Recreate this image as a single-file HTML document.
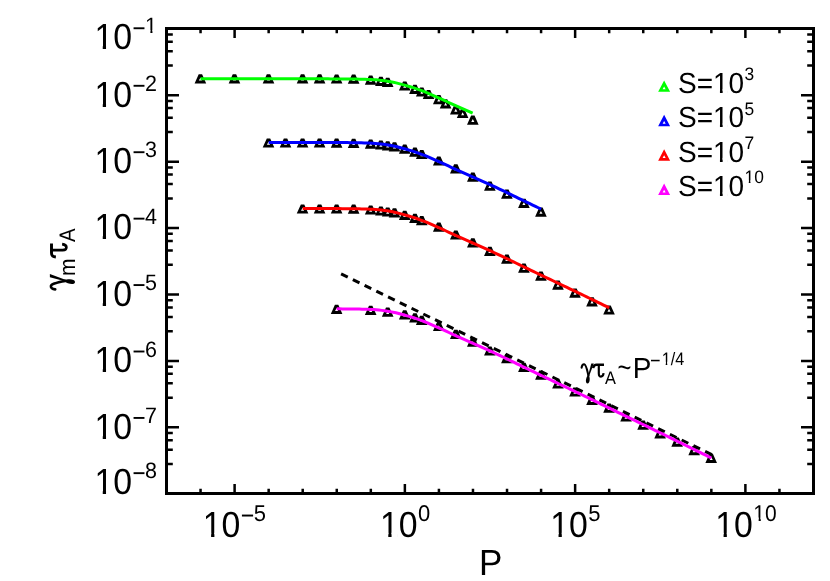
<!DOCTYPE html><html><head><meta charset="utf-8"><title>plot</title><style>
html,body{margin:0;padding:0;background:#fff;}svg{display:block;will-change:transform;}
text{font-family:"Liberation Sans",sans-serif;fill:#000;text-rendering:geometricPrecision;}
</style></head><body>
<svg width="830" height="581" viewBox="0 0 830 581">
<rect x="0" y="0" width="830" height="581" fill="#fff"/>
<g fill="#000" fill-rule="evenodd">
<path d="M198.70,74.30L202.10,74.30L206.20,83.50L194.60,83.50ZM200.40,77.70L201.95,80.60L198.85,80.60Z"/>
<path d="M232.76,74.30L236.16,74.30L240.26,83.50L228.66,83.50ZM234.46,77.70L236.01,80.60L232.91,80.60Z"/>
<path d="M266.81,74.30L270.21,74.30L274.31,83.50L262.71,83.50ZM268.51,77.70L270.06,80.60L266.96,80.60Z"/>
<path d="M300.86,74.30L304.26,74.30L308.36,83.50L296.76,83.50ZM302.56,77.70L304.11,80.60L301.01,80.60Z"/>
<path d="M317.89,74.30L321.29,74.30L325.39,83.50L313.79,83.50ZM319.59,77.70L321.14,80.60L318.04,80.60Z"/>
<path d="M334.91,74.40L338.31,74.40L342.41,83.60L330.81,83.60ZM336.61,77.80L338.16,80.70L335.06,80.70Z"/>
<path d="M351.94,74.60L355.34,74.60L359.44,83.80L347.84,83.80ZM353.64,78.00L355.19,80.90L352.09,80.90Z"/>
<path d="M368.97,75.50L372.37,75.50L376.47,84.70L364.87,84.70ZM370.67,78.90L372.22,81.80L369.12,81.80Z"/>
<path d="M379.18,76.80L382.58,76.80L386.68,86.00L375.08,86.00ZM380.88,80.20L382.43,83.10L379.33,83.10Z"/>
<path d="M385.99,77.70L389.39,77.70L393.49,86.90L381.89,86.90ZM387.69,81.10L389.24,84.00L386.14,84.00Z"/>
<path d="M403.02,81.40L406.42,81.40L410.52,90.60L398.92,90.60ZM404.72,84.80L406.27,87.70L403.17,87.70Z"/>
<path d="M413.23,84.80L416.63,84.80L420.73,94.00L409.13,94.00ZM414.93,88.20L416.48,91.10L413.38,91.10Z"/>
<path d="M420.04,87.40L423.44,87.40L427.54,96.60L415.94,96.60ZM421.74,90.80L423.29,93.70L420.19,93.70Z"/>
<path d="M426.86,89.90L430.26,89.90L434.36,99.10L422.76,99.10ZM428.56,93.30L430.11,96.20L427.01,96.20Z"/>
<path d="M437.07,95.10L440.47,95.10L444.57,104.30L432.97,104.30ZM438.77,98.50L440.32,101.40L437.22,101.40Z"/>
<path d="M443.88,99.30L447.28,99.30L451.38,108.50L439.78,108.50ZM445.58,102.70L447.13,105.60L444.03,105.60Z"/>
<path d="M454.10,105.35L457.50,105.35L461.60,114.55L450.00,114.55ZM455.80,108.75L457.35,111.65L454.25,111.65Z"/>
<path d="M460.91,108.90L464.31,108.90L468.41,118.10L456.81,118.10ZM462.61,112.30L464.16,115.20L461.06,115.20Z"/>
<path d="M471.12,115.60L474.52,115.60L478.62,124.80L467.02,124.80ZM472.82,119.00L474.37,121.90L471.27,121.90Z"/>
<path d="M266.81,138.40L270.21,138.40L274.31,147.60L262.71,147.60ZM268.51,141.80L270.06,144.70L266.96,144.70Z"/>
<path d="M283.83,138.40L287.23,138.40L291.33,147.60L279.73,147.60ZM285.53,141.80L287.08,144.70L283.98,144.70Z"/>
<path d="M300.86,138.40L304.26,138.40L308.36,147.60L296.76,147.60ZM302.56,141.80L304.11,144.70L301.01,144.70Z"/>
<path d="M317.89,138.40L321.29,138.40L325.39,147.60L313.79,147.60ZM319.59,141.80L321.14,144.70L318.04,144.70Z"/>
<path d="M334.91,138.45L338.31,138.45L342.41,147.65L330.81,147.65ZM336.61,141.85L338.16,144.75L335.06,144.75Z"/>
<path d="M351.94,138.80L355.34,138.80L359.44,148.00L347.84,148.00ZM353.64,142.20L355.19,145.10L352.09,145.10Z"/>
<path d="M368.97,139.50L372.37,139.50L376.47,148.70L364.87,148.70ZM370.67,142.90L372.22,145.80L369.12,145.80Z"/>
<path d="M379.18,140.40L382.58,140.40L386.68,149.60L375.08,149.60ZM380.88,143.80L382.43,146.70L379.33,146.70Z"/>
<path d="M385.99,141.20L389.39,141.20L393.49,150.40L381.89,150.40ZM387.69,144.60L389.24,147.50L386.14,147.50Z"/>
<path d="M392.80,142.20L396.20,142.20L400.30,151.40L388.70,151.40ZM394.50,145.60L396.05,148.50L392.95,148.50Z"/>
<path d="M403.02,144.60L406.42,144.60L410.52,153.80L398.92,153.80ZM404.72,148.00L406.27,150.90L403.17,150.90Z"/>
<path d="M413.23,147.60L416.63,147.60L420.73,156.80L409.13,156.80ZM414.93,151.00L416.48,153.90L413.38,153.90Z"/>
<path d="M420.04,149.90L423.44,149.90L427.54,159.10L415.94,159.10ZM421.74,153.30L423.29,156.20L420.19,156.20Z"/>
<path d="M437.07,156.40L440.47,156.40L444.57,165.60L432.97,165.60ZM438.77,159.80L440.32,162.70L437.22,162.70Z"/>
<path d="M454.10,164.30L457.50,164.30L461.60,173.50L450.00,173.50ZM455.80,167.70L457.35,170.60L454.25,170.60Z"/>
<path d="M471.12,172.50L474.52,172.50L478.62,181.70L467.02,181.70ZM472.82,175.90L474.37,178.80L471.27,178.80Z"/>
<path d="M488.15,181.60L491.55,181.60L495.65,190.80L484.05,190.80ZM489.85,185.00L491.40,187.90L488.30,187.90Z"/>
<path d="M505.18,189.60L508.58,189.60L512.68,198.80L501.08,198.80ZM506.88,193.00L508.43,195.90L505.33,195.90Z"/>
<path d="M522.20,198.80L525.60,198.80L529.70,208.00L518.10,208.00ZM523.90,202.20L525.45,205.10L522.35,205.10Z"/>
<path d="M539.23,207.50L542.63,207.50L546.73,216.70L535.13,216.70ZM540.93,210.90L542.48,213.80L539.38,213.80Z"/>
<path d="M300.86,204.40L304.26,204.40L308.36,213.60L296.76,213.60ZM302.56,207.80L304.11,210.70L301.01,210.70Z"/>
<path d="M317.89,204.40L321.29,204.40L325.39,213.60L313.79,213.60ZM319.59,207.80L321.14,210.70L318.04,210.70Z"/>
<path d="M334.91,204.40L338.31,204.40L342.41,213.60L330.81,213.60ZM336.61,207.80L338.16,210.70L335.06,210.70Z"/>
<path d="M351.94,204.60L355.34,204.60L359.44,213.80L347.84,213.80ZM353.64,208.00L355.19,210.90L352.09,210.90Z"/>
<path d="M368.97,205.40L372.37,205.40L376.47,214.60L364.87,214.60ZM370.67,208.80L372.22,211.70L369.12,211.70Z"/>
<path d="M379.18,206.40L382.58,206.40L386.68,215.60L375.08,215.60ZM380.88,209.80L382.43,212.70L379.33,212.70Z"/>
<path d="M385.99,207.40L389.39,207.40L393.49,216.60L381.89,216.60ZM387.69,210.80L389.24,213.70L386.14,213.70Z"/>
<path d="M392.80,208.30L396.20,208.30L400.30,217.50L388.70,217.50ZM394.50,211.70L396.05,214.60L392.95,214.60Z"/>
<path d="M403.02,210.70L406.42,210.70L410.52,219.90L398.92,219.90ZM404.72,214.10L406.27,217.00L403.17,217.00Z"/>
<path d="M413.23,213.70L416.63,213.70L420.73,222.90L409.13,222.90ZM414.93,217.10L416.48,220.00L413.38,220.00Z"/>
<path d="M420.04,216.10L423.44,216.10L427.54,225.30L415.94,225.30ZM421.74,219.50L423.29,222.40L420.19,222.40Z"/>
<path d="M437.07,222.50L440.47,222.50L444.57,231.70L432.97,231.70ZM438.77,225.90L440.32,228.80L437.22,228.80Z"/>
<path d="M454.10,230.40L457.50,230.40L461.60,239.60L450.00,239.60ZM455.80,233.80L457.35,236.70L454.25,236.70Z"/>
<path d="M471.12,238.30L474.52,238.30L478.62,247.50L467.02,247.50ZM472.82,241.70L474.37,244.60L471.27,244.60Z"/>
<path d="M488.15,246.70L491.55,246.70L495.65,255.90L484.05,255.90ZM489.85,250.10L491.40,253.00L488.30,253.00Z"/>
<path d="M505.18,254.60L508.58,254.60L512.68,263.80L501.08,263.80ZM506.88,258.00L508.43,260.90L505.33,260.90Z"/>
<path d="M522.20,263.60L525.60,263.60L529.70,272.80L518.10,272.80ZM523.90,267.00L525.45,269.90L522.35,269.90Z"/>
<path d="M539.23,271.50L542.63,271.50L546.73,280.70L535.13,280.70ZM540.93,274.90L542.48,277.80L539.38,277.80Z"/>
<path d="M556.26,280.50L559.66,280.50L563.76,289.70L552.16,289.70ZM557.96,283.90L559.51,286.80L556.41,286.80Z"/>
<path d="M573.28,288.50L576.68,288.50L580.78,297.70L569.18,297.70ZM574.98,291.90L576.53,294.80L573.43,294.80Z"/>
<path d="M590.31,297.20L593.71,297.20L597.81,306.40L586.21,306.40ZM592.01,300.60L593.56,303.50L590.46,303.50Z"/>
<path d="M607.33,305.40L610.73,305.40L614.83,314.60L603.23,314.60ZM609.03,308.80L610.58,311.70L607.48,311.70Z"/>
<path d="M334.91,304.70L338.31,304.70L342.41,313.90L330.81,313.90ZM336.61,308.10L338.16,311.00L335.06,311.00Z"/>
<path d="M368.97,305.80L372.37,305.80L376.47,315.00L364.87,315.00ZM370.67,309.20L372.22,312.10L369.12,312.10Z"/>
<path d="M385.99,307.60L389.39,307.60L393.49,316.80L381.89,316.80ZM387.69,311.00L389.24,313.90L386.14,313.90Z"/>
<path d="M403.02,310.20L406.42,310.20L410.52,319.40L398.92,319.40ZM404.72,313.60L406.27,316.50L403.17,316.50Z"/>
<path d="M413.23,313.20L416.63,313.20L420.73,322.40L409.13,322.40ZM414.93,316.60L416.48,319.50L413.38,319.50Z"/>
<path d="M420.04,315.80L423.44,315.80L427.54,325.00L415.94,325.00ZM421.74,319.20L423.29,322.10L420.19,322.10Z"/>
<path d="M437.07,321.90L440.47,321.90L444.57,331.10L432.97,331.10ZM438.77,325.30L440.32,328.20L437.22,328.20Z"/>
<path d="M454.10,329.80L457.50,329.80L461.60,339.00L450.00,339.00ZM455.80,333.20L457.35,336.10L454.25,336.10Z"/>
<path d="M471.12,337.60L474.52,337.60L478.62,346.80L467.02,346.80ZM472.82,341.00L474.37,343.90L471.27,343.90Z"/>
<path d="M488.15,346.40L491.55,346.40L495.65,355.60L484.05,355.60ZM489.85,349.80L491.40,352.70L488.30,352.70Z"/>
<path d="M505.18,354.00L508.58,354.00L512.68,363.20L501.08,363.20ZM506.88,357.40L508.43,360.30L505.33,360.30Z"/>
<path d="M522.20,362.80L525.60,362.80L529.70,372.00L518.10,372.00ZM523.90,366.20L525.45,369.10L522.35,369.10Z"/>
<path d="M539.23,370.60L542.63,370.60L546.73,379.80L535.13,379.80ZM540.93,374.00L542.48,376.90L539.38,376.90Z"/>
<path d="M556.26,379.40L559.66,379.40L563.76,388.60L552.16,388.60ZM557.96,382.80L559.51,385.70L556.41,385.70Z"/>
<path d="M573.28,387.40L576.68,387.40L580.78,396.60L569.18,396.60ZM574.98,390.80L576.53,393.70L573.43,393.70Z"/>
<path d="M590.31,395.80L593.71,395.80L597.81,405.00L586.21,405.00ZM592.01,399.20L593.56,402.10L590.46,402.10Z"/>
<path d="M607.33,403.60L610.73,403.60L614.83,412.80L603.23,412.80ZM609.03,407.00L610.58,409.90L607.48,409.90Z"/>
<path d="M624.36,412.40L627.76,412.40L631.86,421.60L620.26,421.60ZM626.06,415.80L627.61,418.70L624.51,418.70Z"/>
<path d="M641.39,420.60L644.79,420.60L648.89,429.80L637.29,429.80ZM643.09,424.00L644.64,426.90L641.54,426.90Z"/>
<path d="M658.41,429.30L661.81,429.30L665.91,438.50L654.31,438.50ZM660.11,432.70L661.66,435.60L658.56,435.60Z"/>
<path d="M675.44,437.50L678.84,437.50L682.94,446.70L671.34,446.70ZM677.14,440.90L678.69,443.80L675.59,443.80Z"/>
<path d="M692.47,446.00L695.87,446.00L699.97,455.20L688.37,455.20ZM694.17,449.40L695.72,452.30L692.62,452.30Z"/>
<path d="M709.49,453.70L712.89,453.70L716.99,462.90L705.39,462.90ZM711.19,457.10L712.74,460.00L709.64,460.00Z"/>
</g>
<path d="M341.10,273.90L712.84,455.20" stroke="#000" stroke-width="3" stroke-dasharray="7.4 5.665" fill="none"/>
<path d="M200.55,78.85L203.39,78.85L206.22,78.85L209.06,78.85L211.89,78.85L214.72,78.85L217.56,78.85L220.39,78.85L223.23,78.85L226.06,78.85L228.89,78.85L231.73,78.85L234.56,78.85L237.40,78.85L240.23,78.85L243.07,78.85L245.90,78.85L248.73,78.85L251.57,78.85L254.40,78.85L257.24,78.85L260.07,78.85L262.90,78.85L265.74,78.85L268.57,78.85L271.41,78.85L274.24,78.85L277.08,78.85L279.91,78.85L282.74,78.85L285.58,78.85L288.41,78.85L291.25,78.85L294.08,78.85L296.91,78.85L299.75,78.85L302.58,78.85L305.42,78.85L308.25,78.85L311.09,78.85L313.92,78.85L316.75,78.85L319.59,78.85L322.42,78.86L325.26,78.86L328.09,78.87L330.92,78.88L333.76,78.89L336.59,78.90L339.43,78.91L342.26,78.93L345.10,78.95L347.93,78.98L350.76,79.01L353.60,79.05L356.43,79.09L359.27,79.15L362.10,79.21L364.93,79.29L367.77,79.39L370.60,79.50L373.44,79.66L376.27,79.87L379.11,80.13L381.94,80.43L384.77,80.80L387.61,81.23L390.44,81.71L393.28,82.27L396.11,82.89L398.94,83.59L401.78,84.37L404.61,85.18L407.45,85.98L410.28,86.80L413.12,87.67L415.95,88.61L418.78,89.62L421.62,90.63L424.45,91.68L427.29,92.84L430.12,94.06L432.95,95.31L435.79,96.57L438.62,97.85L441.46,99.15L444.29,100.46L447.13,101.76L449.96,103.04L452.79,104.32L455.63,105.58L458.46,106.85L461.30,108.12L464.13,109.40L466.96,110.67L469.80,111.94L472.63,113.20" stroke="#00ff00" stroke-width="3" fill="none" stroke-linejoin="round"/>
<path d="M268.66,142.50L271.47,142.50L274.27,142.50L277.08,142.50L279.89,142.50L282.70,142.50L285.51,142.50L288.32,142.50L291.13,142.50L293.93,142.50L296.74,142.50L299.55,142.50L302.36,142.50L305.17,142.50L307.98,142.50L310.78,142.50L313.59,142.50L316.40,142.50L319.21,142.50L322.02,142.51L324.83,142.51L327.64,142.52L330.44,142.53L333.25,142.54L336.06,142.55L338.87,142.56L341.68,142.58L344.49,142.60L347.29,142.62L350.10,142.65L352.91,142.69L355.72,142.73L358.53,142.78L361.34,142.84L364.15,142.92L366.95,143.01L369.76,143.12L372.57,143.25L375.38,143.45L378.19,143.69L381.00,143.97L383.80,144.32L386.61,144.72L389.42,145.17L392.23,145.70L395.04,146.30L397.85,146.96L400.66,147.71L403.46,148.50L406.27,149.30L409.08,150.10L411.89,150.93L414.70,151.83L417.51,152.81L420.31,153.82L423.12,154.83L425.93,155.93L428.74,157.11L431.55,158.34L434.36,159.59L437.17,160.84L439.97,162.12L442.78,163.41L445.59,164.71L448.40,165.99L451.21,167.26L454.02,168.51L456.83,169.77L459.63,171.03L462.44,172.29L465.25,173.55L468.06,174.81L470.87,176.07L473.68,177.31L476.48,178.55L479.29,179.79L482.10,181.05L484.91,182.32L487.72,183.59L490.53,184.88L493.34,186.17L496.14,187.48L498.95,188.80L501.76,190.13L504.57,191.47L507.38,192.83L510.19,194.18L512.99,195.55L515.80,196.91L518.61,198.28L521.42,199.65L524.23,201.01L527.04,202.37L529.85,203.72L532.65,205.06L535.46,206.41L538.27,207.74L541.08,209.08" stroke="#0000ff" stroke-width="3" fill="none" stroke-linejoin="round"/>
<path d="M302.71,208.55L305.52,208.55L308.33,208.55L311.15,208.55L313.96,208.55L316.77,208.55L319.58,208.55L322.39,208.56L325.20,208.56L328.02,208.57L330.83,208.58L333.64,208.59L336.45,208.60L339.26,208.61L342.07,208.63L344.89,208.65L347.70,208.68L350.51,208.71L353.32,208.74L356.13,208.79L358.94,208.84L361.76,208.90L364.57,208.98L367.38,209.08L370.19,209.18L373.00,209.33L375.81,209.53L378.63,209.78L381.44,210.07L384.25,210.43L387.06,210.84L389.87,211.30L392.68,211.84L395.50,212.45L398.31,213.13L401.12,213.89L403.93,214.68L406.74,215.48L409.55,216.28L412.37,217.13L415.18,218.05L417.99,219.03L420.80,220.04L423.61,221.06L426.42,222.18L429.24,223.37L432.05,224.61L434.86,225.86L437.67,227.12L440.48,228.40L443.29,229.70L446.11,231.00L448.92,232.27L451.73,233.54L454.54,234.80L457.35,236.05L460.16,237.31L462.98,238.58L465.79,239.84L468.60,241.10L471.41,242.36L474.22,243.60L477.04,244.84L479.85,246.09L482.66,247.35L485.47,248.62L488.28,249.90L491.09,251.19L493.91,252.49L496.72,253.80L499.53,255.12L502.34,256.46L505.15,257.80L507.96,259.16L510.78,260.52L513.59,261.89L516.40,263.25L519.21,264.62L522.02,265.99L524.83,267.35L527.65,268.71L530.46,270.06L533.27,271.41L536.08,272.75L538.89,274.09L541.70,275.43L544.52,276.76L547.33,278.10L550.14,279.43L552.95,280.76L555.76,282.10L558.57,283.43L561.39,284.76L564.20,286.10L567.01,287.44L569.82,288.78L572.63,290.12L575.44,291.46L578.26,292.81L581.07,294.16L583.88,295.52L586.69,296.88L589.50,298.24L592.31,299.60L595.13,300.97L597.94,302.34L600.75,303.71L603.56,305.08L606.37,306.45L609.18,307.82" stroke="#ff0000" stroke-width="3" fill="none" stroke-linejoin="round"/>
<path d="M336.76,308.85L339.58,308.86L342.40,308.88L345.21,308.90L348.03,308.93L350.85,308.96L353.66,309.00L356.48,309.04L359.29,309.10L362.11,309.16L364.93,309.24L367.74,309.34L370.56,309.45L373.38,309.60L376.19,309.82L379.01,310.07L381.83,310.37L384.64,310.73L387.46,311.15L390.27,311.62L393.09,312.18L395.91,312.80L398.72,313.48L401.54,314.26L404.36,315.06L407.17,315.85L409.99,316.66L412.81,317.52L415.62,318.45L418.44,319.45L421.25,320.45L424.07,321.49L426.89,322.62L429.70,323.83L432.52,325.07L435.34,326.32L438.15,327.58L440.97,328.87L443.79,330.18L446.60,331.47L449.42,332.75L452.23,334.02L455.05,335.28L457.87,336.54L460.68,337.80L463.50,339.06L466.32,340.33L469.13,341.59L471.95,342.85L474.77,344.09L477.58,345.33L480.40,346.58L483.22,347.85L486.03,349.13L488.85,350.41L491.66,351.70L494.48,353.00L497.30,354.32L500.11,355.65L502.93,356.99L505.75,358.34L508.56,359.70L511.38,361.06L514.20,362.43L517.01,363.80L519.83,365.17L522.64,366.54L525.46,367.91L528.28,369.27L531.09,370.62L533.91,371.96L536.73,373.31L539.54,374.65L542.36,375.99L545.18,377.33L547.99,378.66L550.81,380.00L553.62,381.33L556.44,382.67L559.26,384.00L562.07,385.34L564.89,386.68L567.71,388.02L570.52,389.36L573.34,390.71L576.16,392.05L578.97,393.41L581.79,394.76L584.60,396.12L587.42,397.48L590.24,398.85L593.05,400.21L595.87,401.58L598.69,402.95L601.50,404.32L604.32,405.70L607.14,407.07L609.95,408.45L612.77,409.82L615.59,411.19L618.40,412.57L621.22,413.94L624.03,415.31L626.85,416.68L629.67,418.04L632.48,419.41L635.30,420.77L638.12,422.13L640.93,423.48L643.75,424.84L646.57,426.20L649.38,427.56L652.20,428.92L655.01,430.28L657.83,431.65L660.65,433.02L663.46,434.40L666.28,435.77L669.10,437.15L671.91,438.54L674.73,439.92L677.55,441.31L680.36,442.70L683.18,444.09L685.99,445.48L688.81,446.87L691.63,448.26L694.44,449.66L697.26,451.05L700.08,452.44L702.89,453.83L705.71,455.22L708.53,456.61L711.34,458.00" stroke="#ff00ff" stroke-width="3" fill="none" stroke-linejoin="round"/>
<rect x="166.5" y="28.5" width="647.0" height="465.0" fill="none" stroke="#000" stroke-width="3"/>
<path d="M200.55,493.5v-4.8M200.55,28.5v4.8M234.61,493.5v-9.5M234.61,28.5v9.5M268.66,493.5v-4.8M268.66,28.5v4.8M302.71,493.5v-4.8M302.71,28.5v4.8M336.76,493.5v-4.8M336.76,28.5v4.8M370.82,493.5v-4.8M370.82,28.5v4.8M404.87,493.5v-9.5M404.87,28.5v9.5M438.92,493.5v-4.8M438.92,28.5v4.8M472.97,493.5v-4.8M472.97,28.5v4.8M507.03,493.5v-4.8M507.03,28.5v4.8M541.08,493.5v-4.8M541.08,28.5v4.8M575.13,493.5v-9.5M575.13,28.5v9.5M609.18,493.5v-4.8M609.18,28.5v4.8M643.24,493.5v-4.8M643.24,28.5v4.8M677.29,493.5v-4.8M677.29,28.5v4.8M711.34,493.5v-4.8M711.34,28.5v4.8M745.39,493.5v-9.5M745.39,28.5v9.5M779.45,493.5v-4.8M779.45,28.5v4.8M166.5,464.10h6.3M813.5,464.10h-6.3M166.5,449.77h6.3M813.5,449.77h-6.3M166.5,440.25h6.3M813.5,440.25h-6.3M166.5,433.10h6.3M813.5,433.10h-6.3M166.5,427.37h12.5M813.5,427.37h-12.5M166.5,397.67h6.3M813.5,397.67h-6.3M166.5,383.35h6.3M813.5,383.35h-6.3M166.5,373.82h6.3M813.5,373.82h-6.3M166.5,366.67h6.3M813.5,366.67h-6.3M166.5,360.94h12.5M813.5,360.94h-12.5M166.5,331.24h6.3M813.5,331.24h-6.3M166.5,316.92h6.3M813.5,316.92h-6.3M166.5,307.39h6.3M813.5,307.39h-6.3M166.5,300.24h6.3M813.5,300.24h-6.3M166.5,294.51h12.5M813.5,294.51h-12.5M166.5,264.81h6.3M813.5,264.81h-6.3M166.5,250.49h6.3M813.5,250.49h-6.3M166.5,240.96h6.3M813.5,240.96h-6.3M166.5,233.81h6.3M813.5,233.81h-6.3M166.5,228.09h12.5M813.5,228.09h-12.5M166.5,198.38h6.3M813.5,198.38h-6.3M166.5,184.06h6.3M813.5,184.06h-6.3M166.5,174.53h6.3M813.5,174.53h-6.3M166.5,167.38h6.3M813.5,167.38h-6.3M166.5,161.66h12.5M813.5,161.66h-12.5M166.5,131.95h6.3M813.5,131.95h-6.3M166.5,117.63h6.3M813.5,117.63h-6.3M166.5,108.10h6.3M813.5,108.10h-6.3M166.5,100.95h6.3M813.5,100.95h-6.3M166.5,95.23h12.5M813.5,95.23h-12.5M166.5,65.52h6.3M813.5,65.52h-6.3M166.5,51.20h6.3M813.5,51.20h-6.3M166.5,41.68h6.3M813.5,41.68h-6.3M166.5,34.53h6.3M813.5,34.53h-6.3" stroke="#000" stroke-width="2.5" fill="none"/>
<text transform="translate(202.76,537.20) scale(0.966,1.035)" font-size="35.0">10</text><rect x="204.11" y="532.79" width="7.00" height="5.31" fill="#fff"/><rect x="214.39" y="532.79" width="6.25" height="5.31" fill="#fff"/><rect x="241.92" y="514.57" width="11.18" height="1.94" fill="#000"/><text transform="translate(253.69,520.80) scale(1.0,1.035)" font-size="22.0">5</text>
<text transform="translate(379.92,537.20) scale(0.966,1.035)" font-size="35.0">10</text><rect x="381.27" y="532.79" width="7.00" height="5.31" fill="#fff"/><rect x="391.55" y="532.79" width="6.25" height="5.31" fill="#fff"/><text transform="translate(417.93,520.80) scale(1.0,1.035)" font-size="22.0">0</text>
<text transform="translate(550.18,537.20) scale(0.966,1.035)" font-size="35.0">10</text><rect x="551.53" y="532.79" width="7.00" height="5.31" fill="#fff"/><rect x="561.81" y="532.79" width="6.25" height="5.31" fill="#fff"/><text transform="translate(588.19,520.80) scale(1.0,1.035)" font-size="22.0">5</text>
<text transform="translate(715.21,537.20) scale(0.966,1.035)" font-size="35.0">10</text><rect x="716.57" y="532.79" width="7.00" height="5.31" fill="#fff"/><rect x="726.85" y="532.79" width="6.25" height="5.31" fill="#fff"/><text transform="translate(753.22,520.80) scale(0.955,1.035)" font-size="22.0">10</text><rect x="753.88" y="517.50" width="4.77" height="4.00" fill="#fff"/><rect x="760.79" y="517.50" width="4.40" height="4.00" fill="#fff"/>
<text transform="translate(94.40,493.90) scale(0.966,1.035)" font-size="35.0">10</text><rect x="95.75" y="489.49" width="7.00" height="5.31" fill="#fff"/><rect x="106.03" y="489.49" width="6.25" height="5.31" fill="#fff"/><rect x="133.56" y="472.22" width="10.90" height="1.89" fill="#000"/><text transform="translate(145.06,478.30) scale(1.0,1.035)" font-size="21.5">8</text>
<text transform="translate(94.40,438.67) scale(0.966,1.035)" font-size="35.0">10</text><rect x="95.75" y="434.27" width="7.00" height="5.31" fill="#fff"/><rect x="106.03" y="434.27" width="6.25" height="5.31" fill="#fff"/><rect x="133.56" y="416.99" width="10.90" height="1.89" fill="#000"/><text transform="translate(145.06,423.07) scale(1.0,1.035)" font-size="21.5">7</text>
<text transform="translate(94.40,372.24) scale(0.966,1.035)" font-size="35.0">10</text><rect x="95.75" y="367.84" width="7.00" height="5.31" fill="#fff"/><rect x="106.03" y="367.84" width="6.25" height="5.31" fill="#fff"/><rect x="133.56" y="350.56" width="10.90" height="1.89" fill="#000"/><text transform="translate(145.06,356.64) scale(1.0,1.035)" font-size="21.5">6</text>
<text transform="translate(94.40,305.81) scale(0.966,1.035)" font-size="35.0">10</text><rect x="95.75" y="301.41" width="7.00" height="5.31" fill="#fff"/><rect x="106.03" y="301.41" width="6.25" height="5.31" fill="#fff"/><rect x="133.56" y="284.13" width="10.90" height="1.89" fill="#000"/><text transform="translate(145.06,290.21) scale(1.0,1.035)" font-size="21.5">5</text>
<text transform="translate(94.40,239.39) scale(0.966,1.035)" font-size="35.0">10</text><rect x="95.75" y="234.98" width="7.00" height="5.31" fill="#fff"/><rect x="106.03" y="234.98" width="6.25" height="5.31" fill="#fff"/><rect x="133.56" y="217.70" width="10.90" height="1.89" fill="#000"/><text transform="translate(145.06,223.79) scale(1.0,1.035)" font-size="21.5">4</text>
<text transform="translate(94.40,172.96) scale(0.966,1.035)" font-size="35.0">10</text><rect x="95.75" y="168.55" width="7.00" height="5.31" fill="#fff"/><rect x="106.03" y="168.55" width="6.25" height="5.31" fill="#fff"/><rect x="133.56" y="151.27" width="10.90" height="1.89" fill="#000"/><text transform="translate(145.06,157.36) scale(1.0,1.035)" font-size="21.5">3</text>
<text transform="translate(94.40,106.53) scale(0.966,1.035)" font-size="35.0">10</text><rect x="95.75" y="102.12" width="7.00" height="5.31" fill="#fff"/><rect x="106.03" y="102.12" width="6.25" height="5.31" fill="#fff"/><rect x="133.56" y="84.84" width="10.90" height="1.89" fill="#000"/><text transform="translate(145.06,90.93) scale(1.0,1.035)" font-size="21.5">2</text>
<text transform="translate(94.40,49.00) scale(0.966,1.035)" font-size="35.0">10</text><rect x="95.75" y="44.59" width="7.00" height="5.31" fill="#fff"/><rect x="106.03" y="44.59" width="6.25" height="5.31" fill="#fff"/><rect x="133.56" y="27.32" width="10.90" height="1.89" fill="#000"/><text transform="translate(145.06,33.40) scale(1.0,1.035)" font-size="21.5">1</text><rect x="145.71" y="30.14" width="4.67" height="3.96" fill="#fff"/><rect x="152.46" y="30.14" width="4.30" height="3.96" fill="#fff"/>
<text transform="translate(490.70,574.70) scale(1.0,1.035)" font-size="35" text-anchor="middle">P</text>
<g transform="translate(67.5,290.5) rotate(-90)">
<g transform="translate(0.40,0.00) scale(1.25)"><path d="M0.6,-9.8C0.9,-12.3 2.0,-13.4 3.2,-13.25C5.2,-12.9 6.0,-8 7.4,-2.0" fill="none" stroke="#000" stroke-width="2.1" stroke-linecap="round"/><path d="M10.3,-14.1L12.8,-14.1L8.0,-1.2L6.9,-1.2Z" fill="#000"/><path d="M7.5,-3.4C9.5,0.6 8.9,6.0 6.5,6.0C4.1,6.0 4.3,1.0 7.5,-3.4Z" fill="#000"/></g>
<text transform="translate(14.60,7.50) scale(0.97,1.035)" font-size="21.7">m</text>
<g transform="translate(32.30,0.00) scale(1.25)"><path d="M0.9,-9.3C1.2,-12.2 2.3,-12.8 4.3,-12.8L11.7,-12.8" fill="none" stroke="#000" stroke-width="2.35" stroke-linecap="butt"/><path d="M6.5,-12.8L6.5,-3.9C6.5,-1.3 7.6,-0.9 8.7,-0.9C10.0,-0.9 11.0,-2.0 11.3,-4.3" fill="none" stroke="#000" stroke-width="2.15" stroke-linecap="butt"/></g>
<text transform="translate(48.60,7.50) scale(0.94,1.035)" font-size="21.7">A</text>
</g>
<path d="M664.13,80.40L670.10,91.85L658.16,91.85ZM664.13,86.55L665.63,89.25L662.63,89.25Z" fill="#00ff00" fill-rule="evenodd"/>
<text transform="translate(678.00,92.90) scale(1.0,1.035)" font-size="28.0">S=10</text><rect x="714.15" y="89.04" width="5.80" height="4.76" fill="#fff"/><rect x="722.66" y="89.04" width="5.18" height="4.76" fill="#fff"/><text transform="translate(744.48,80.10) scale(1.0,1.035)" font-size="17.4">3</text>
<path d="M664.13,114.80L670.10,126.25L658.16,126.25ZM664.13,120.95L665.63,123.65L662.63,123.65Z" fill="#0000ff" fill-rule="evenodd"/>
<text transform="translate(678.00,127.30) scale(1.0,1.035)" font-size="28.0">S=10</text><rect x="714.15" y="123.44" width="5.80" height="4.76" fill="#fff"/><rect x="722.66" y="123.44" width="5.18" height="4.76" fill="#fff"/><text transform="translate(744.48,114.50) scale(1.0,1.035)" font-size="17.4">5</text>
<path d="M664.13,149.20L670.10,160.65L658.16,160.65ZM664.13,155.35L665.63,158.05L662.63,158.05Z" fill="#ff0000" fill-rule="evenodd"/>
<text transform="translate(678.00,161.70) scale(1.0,1.035)" font-size="28.0">S=10</text><rect x="714.15" y="157.84" width="5.80" height="4.76" fill="#fff"/><rect x="722.66" y="157.84" width="5.18" height="4.76" fill="#fff"/><text transform="translate(744.48,148.90) scale(1.0,1.035)" font-size="17.4">7</text>
<path d="M664.13,183.60L670.10,195.05L658.16,195.05ZM664.13,189.75L665.63,192.45L662.63,192.45Z" fill="#ff00ff" fill-rule="evenodd"/>
<text transform="translate(678.00,196.10) scale(1.0,1.035)" font-size="28.0">S=10</text><rect x="714.15" y="192.24" width="5.80" height="4.76" fill="#fff"/><rect x="722.66" y="192.24" width="5.18" height="4.76" fill="#fff"/><text transform="translate(744.48,183.30) scale(1.0,1.035)" font-size="17.4">10</text><rect x="745.00" y="180.35" width="3.78" height="3.65" fill="#fff"/><rect x="750.46" y="180.35" width="3.48" height="3.65" fill="#fff"/>
<g transform="translate(581.00,377.50) scale(1.0)"><path d="M0.6,-9.8C0.9,-12.3 2.0,-13.4 3.2,-13.25C5.2,-12.9 6.0,-8 7.4,-2.0" fill="none" stroke="#000" stroke-width="2.1" stroke-linecap="round"/><path d="M10.3,-14.1L12.8,-14.1L8.0,-1.2L6.9,-1.2Z" fill="#000"/><path d="M7.5,-3.4C9.5,0.6 8.9,6.0 6.5,6.0C4.1,6.0 4.3,1.0 7.5,-3.4Z" fill="#000"/></g>
<g transform="translate(592.30,377.50) scale(1.0)"><path d="M0.9,-9.3C1.2,-12.2 2.3,-12.8 4.3,-12.8L11.7,-12.8" fill="none" stroke="#000" stroke-width="2.35" stroke-linecap="butt"/><path d="M6.5,-12.8L6.5,-3.9C6.5,-1.3 7.6,-0.9 8.7,-0.9C10.0,-0.9 11.0,-2.0 11.3,-4.3" fill="none" stroke="#000" stroke-width="2.15" stroke-linecap="butt"/></g>
<text transform="translate(604.90,383.80) scale(0.94,1.035)" font-size="17.4">A</text>
<text transform="translate(617.60,377.10) scale(0.85,1.035)" font-size="28">~</text>
<text transform="translate(632.80,377.50) scale(1.0,1.035)" font-size="28">P</text>
<rect x="651.00" y="359.78" width="8.65" height="1.53" fill="#000"/>
<text transform="translate(661.70,364.70) scale(0.93,1.035)" font-size="17.4">1/4</text>
<rect x="662.19" y="361.75" width="3.51" height="3.65" fill="#fff"/>
<rect x="667.27" y="361.75" width="2.75" height="3.65" fill="#fff"/>
</svg></body></html>
